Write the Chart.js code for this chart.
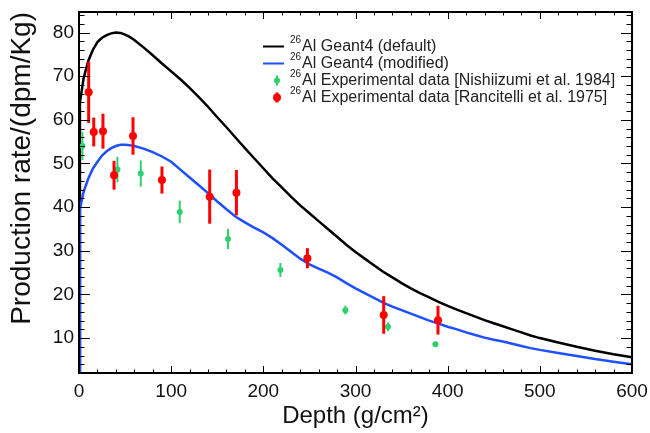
<!DOCTYPE html>
<html>
<head>
<meta charset="utf-8">
<title>26Al production rate vs depth</title>
<script src="https://cdn.jsdelivr.net/npm/chart.js@4.4.0/dist/chart.umd.min.js"></script>
<style>
  body { margin: 0; background: #fff; }
  canvas { display: block; }
</style>
</head>
<body>
<canvas id="chart" width="650" height="433"></canvas>
<script>
"use strict";

// simulation output, depth in g/cm2
const depth = [
  0, 1, 5, 10, 15, 20, 25, 30, 35, 40, 45, 50, 55, 60,
  70, 80, 90, 100, 110, 120, 130, 140, 150, 160, 170, 180, 190, 200,
  210, 220, 230, 240, 250, 260, 270, 280, 290, 300, 310, 320, 330, 340,
  350, 360, 370, 380, 390, 400, 410, 420, 430, 440, 450, 460, 470, 480,
  490, 500, 520, 540, 560, 580, 600,
];
const geantDefault = [
  0, 64, 69.5, 73.5, 76, 77.8, 78.8, 79.4, 79.8, 80.0, 79.9, 79.5, 79.0, 78.3,
  76.6, 74.8, 72.9, 71.1, 69.3, 67.3, 65.2, 63.0, 60.6, 58.3, 55.9, 53.5, 51.2, 48.9,
  46.6, 44.5, 42.4, 40.4, 38.6, 36.8, 35.0, 33.2, 31.4, 29.7, 28.2, 26.7, 25.2, 23.9,
  22.6, 21.4, 20.3, 19.3, 18.3, 17.4, 16.5, 15.7, 14.9, 14.1, 13.4, 12.7, 12.0, 11.3,
  10.6, 10.0, 9.0, 8.0, 7.1, 6.3, 5.6,
];
const geantModified = [
  0, 39.5, 43.5, 46.5, 48.8, 50.4, 51.8, 52.8, 53.5, 54.0, 54.3, 54.3, 54.2, 54.0,
  53.4, 52.6, 51.6, 50.4, 48.6, 46.8, 45.0, 43.2, 41.3, 39.5, 37.8, 36.5, 35.3, 34.2,
  32.9, 31.4, 29.8, 28.2, 26.9, 25.9, 25.0, 23.9, 22.6, 21.4, 20.3, 19.2, 18.1, 17.2,
  16.4, 15.6, 14.8, 14.0, 13.3, 12.6, 12.0, 11.3, 10.7, 10.1, 9.6, 9.2, 8.7, 8.2,
  7.7, 7.3, 6.6, 5.9, 5.2, 4.6, 4.0,
];

// Nishiizumi et al. 1984
const nishDepth = [3.7, 41.7, 67, 109.3, 161.7, 218.5, 289, 335.3, 386.7];
const nishRate = [54.0, 48.6, 47.7, 38.9, 32.7, 25.6, 16.4, 12.6, 8.6];
const nishErr = [3.2, 2.9, 3.0, 2.6, 2.3, 1.6, 1.0, 1.0, 0.5];

// Rancitelli et al. 1975
const ranDepth = [10.5, 16, 26, 38, 58.6, 90, 141.8, 170.8, 247.8, 330.6, 389.5];
const ranRate = [66.3, 57.2, 57.4, 47.3, 56.3, 46.2, 42.4, 43.3, 28.3, 15.3, 14.1];
const ranErr = [7.0, 3.3, 4.0, 3.3, 4.3, 3.1, 6.2, 5.2, 2.3, 4.3, 3.3];

const xTickValues = [0, 100, 200, 300, 400, 500, 600];
const yTickValues = [10, 20, 30, 40, 50, 60, 70, 80];

const FONT = "'Liberation Sans', Arial, Helvetica, sans-serif";
const toPoints = (xs, ys) => xs.map((x, i) => ({ x: x, y: ys[i] }));

Chart.defaults.font.family = FONT;
Chart.defaults.color = "#111";

// vertical error bars, drawn under the markers
const errorBars = {
  id: "errorBars",
  beforeDatasetDraw(chart, args) {
    const ds = chart.data.datasets[args.index];
    if (!ds.errors) return;
    const { ctx, chartArea: a, scales } = chart;
    ctx.save();
    ctx.beginPath();
    ctx.rect(a.left, a.top, a.right - a.left, a.bottom - a.top);
    ctx.clip();
    ctx.strokeStyle = ds.borderColor;
    ctx.lineWidth = ds.errorWidth;
    ds.data.forEach((p, i) => {
      const x = scales.x.getPixelForValue(p.x);
      ctx.beginPath();
      ctx.moveTo(x, scales.y.getPixelForValue(p.y - ds.errors[i]));
      ctx.lineTo(x, scales.y.getPixelForValue(p.y + ds.errors[i]));
      ctx.stroke();
    });
    ctx.restore();
  },
};

// ROOT style frame with inward ticks on all four sides
const rootFrame = {
  id: "rootFrame",
  afterDatasetsDraw(chart) {
    const { ctx, chartArea: a, scales } = chart;
    const seg = (x1, y1, x2, y2) => {
      ctx.beginPath();
      ctx.moveTo(x1, y1);
      ctx.lineTo(x2, y2);
      ctx.stroke();
    };
    ctx.save();
    ctx.strokeStyle = "#000";
    ctx.lineWidth = 1;
    for (let v = 0; v <= scales.x.max; v += 20) {
      const x = Math.round(scales.x.getPixelForValue(v)) + 0.5;
      const len = v % 100 === 0 ? 7 : 3.5;
      seg(x, a.bottom, x, a.bottom - len);
      seg(x, a.top, x, a.top + len);
    }
    for (let v = 2; v <= scales.y.max; v += 2) {
      const y = Math.round(scales.y.getPixelForValue(v)) + 0.5;
      const len = v % 10 === 0 ? 11 : 5.5;
      seg(a.left, y, a.left + len, y);
      seg(a.right, y, a.right - len, y);
    }
    ctx.lineWidth = 2;
    ctx.strokeRect(a.left, a.top, a.right - a.left, a.bottom - a.top);
    ctx.restore();
  },
};

// legend with superscript isotope number
const rootLegend = {
  id: "rootLegend",
  afterDraw(chart) {
    const ctx = chart.ctx;
    ctx.save();
    chart.data.datasets.forEach((ds, i) => {
      const y = 46.5 + i * 17;
      if (ds.showLine === false) {
        ctx.strokeStyle = ds.borderColor;
        ctx.lineWidth = ds.errorWidth;
        ctx.beginPath();
        ctx.moveTo(277, y - 5);
        ctx.lineTo(277, y + 5);
        ctx.stroke();
        ctx.fillStyle = ds.pointBackgroundColor;
        ctx.beginPath();
        ctx.arc(277, y, ds.pointRadius, 0, Math.PI * 2);
        ctx.fill();
      } else {
        ctx.strokeStyle = ds.borderColor;
        ctx.lineWidth = 2;
        ctx.beginPath();
        ctx.moveTo(263, y);
        ctx.lineTo(284, y);
        ctx.stroke();
      }
      const m = ds.label.match(/^(\d+)(.*)$/);
      ctx.fillStyle = "#222";
      ctx.textBaseline = "middle";
      ctx.font = "10px " + FONT;
      ctx.fillText(m[1], 290, y - 6);
      const w = ctx.measureText(m[1]).width;
      ctx.font = "16px " + FONT;
      ctx.fillText(m[2], 291 + w, y);
    });
    ctx.restore();
  },
};

const config = {
  type: "line",
  data: {
    datasets: [
      {
        label: "26Al Geant4 (default)",
        data: toPoints(depth, geantDefault),
        borderColor: "#000000",
        borderWidth: 2.5,
        pointRadius: 0,
        order: 4,
      },
      {
        label: "26Al Geant4 (modified)",
        data: toPoints(depth, geantModified),
        borderColor: "#1f4fff",
        borderWidth: 2.5,
        pointRadius: 0,
        order: 3,
      },
      {
        label: "26Al Experimental data [Nishiizumi et al. 1984]",
        data: toPoints(nishDepth, nishRate),
        errors: nishErr,
        errorWidth: 2,
        showLine: false,
        borderColor: "#2ed06e",
        pointBackgroundColor: "#2ed06e",
        pointBorderWidth: 0,
        pointRadius: 3,
        order: 2,
      },
      {
        label: "26Al Experimental data [Rancitelli et al. 1975]",
        data: toPoints(ranDepth, ranRate),
        errors: ranErr,
        errorWidth: 3,
        showLine: false,
        borderColor: "#ff0000",
        pointBackgroundColor: "#ff0000",
        pointBorderWidth: 0,
        pointRadius: 4,
        order: 1,
      },
    ],
  },
  options: {
    responsive: false,
    animation: false,
    layout: { padding: { top: 12, right: 18, left: 0, bottom: 0 } },
    plugins: {
      legend: { display: false },
      tooltip: { enabled: false },
    },
    scales: {
      x: {
        type: "linear",
        min: 0,
        max: 600,
        grid: { display: false, drawTicks: false },
        border: { display: false },
        ticks: {
          autoSkip: false,
          maxRotation: 0,
          padding: 7,
          font: { size: 19 },
        },
        afterBuildTicks(scale) {
          scale.ticks = xTickValues.map((v) => ({ value: v }));
        },
        title: {
          display: true,
          text: "Depth (g/cm²)",
          font: { size: 24 },
          padding: { top: 0, bottom: 2 },
        },
        afterFit(scale) {
          scale.height = 60;
          scale.paddingLeft = 0;
          scale.paddingRight = 0;
        },
      },
      y: {
        min: 2,
        max: 84.7,
        grid: { display: false, drawTicks: false },
        border: { display: false },
        ticks: {
          autoSkip: false,
          padding: 5,
          font: { size: 19 },
        },
        afterBuildTicks(scale) {
          scale.ticks = yTickValues.map((v) => ({ value: v }));
        },
        title: {
          display: true,
          text: "Production rate/(dpm/Kg)",
          align: "end",
          font: { size: 28 },
          padding: { top: 5, bottom: 0 },
        },
        afterFit(scale) {
          scale.width = 79;
          scale.paddingTop = 0;
          scale.paddingBottom = 0;
        },
      },
    },
  },
  plugins: [errorBars, rootFrame, rootLegend],
};

const productionChart = new Chart(document.getElementById("chart"), config);
</script>
</body>
</html>
